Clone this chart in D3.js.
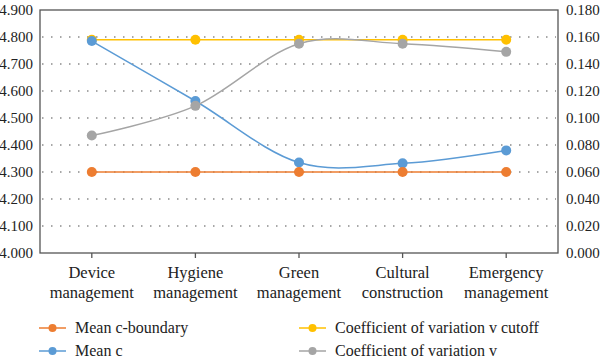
<!DOCTYPE html>
<meta charset="utf-8">
<style>
body { margin: 0; background: #fff; }
svg, svg text, svg tspan { font-family: "Liberation Serif", serif !important; }
.grid line { stroke: #8a8a8a; stroke-width: 1.3px; stroke-dasharray: 1.5,7.5; }
.frame { fill: none; stroke: #555; stroke-width: 1.3px; }
.line { fill: none; stroke-width: 1.5px; }
</style>
<body>
<script src="https://d3js.org/d3.v7.min.js"></script>
<script>

// categories and series values
var categories = [["Device", "management"], ["Hygiene", "management"], ["Green", "management"],
                  ["Cultural", "construction"], ["Emergency", "management"]];
var meanBoundary = [4.300, 4.300, 4.300, 4.300, 4.300];
var meanC = [4.785, 4.563, 4.335, 4.332, 4.380];
var cvCutoff = [0.158, 0.158, 0.158, 0.158, 0.158];
var cv = [0.087, 0.109, 0.155, 0.155, 0.149];
var leftTicks = [4.0, 4.1, 4.2, 4.3, 4.4, 4.5, 4.6, 4.7, 4.8, 4.9];
var rightTicks = [0, 0.02, 0.04, 0.06, 0.08, 0.10, 0.12, 0.14, 0.16, 0.18];

var serifFont = "'Liberation Serif'";

var width = 600, height = 362;
var margin = {top: 10, right: 42, bottom: 109, left: 40},
    w = width - margin.left - margin.right,
    h = height - margin.top - margin.bottom;

var svg = d3.select("body").append("svg")
    .attr("width", width)
    .attr("height", height)
    .attr("font-family", "Liberation Serif");

var g = svg.append("g")
    .attr("transform", "translate(" + margin.left + "," + margin.top + ")");

var idx = d3.range(categories.length);
var x = d3.scaleBand().domain(idx).range([0, w]);
var cx = function(i) { return x(i) + x.bandwidth() / 2; };
var yL = d3.scaleLinear().domain([4.0, 4.9]).range([h, 0]);
var yR = d3.scaleLinear().domain([0, 0.18]).range([h, 0]);

// dotted gridlines
g.append("g").attr("class", "grid")
  .selectAll("line")
  .data(leftTicks.slice(1, -1))
  .enter().append("line")
    .attr("x1", 2).attr("x2", w - 2)
    .attr("y1", function(d) { return yL(d); })
    .attr("y2", function(d) { return yL(d); });

// left axis labels
g.append("g")
    .call(d3.axisLeft(yL).tickValues(leftTicks).tickFormat(d3.format(".3f")).tickSize(0).tickPadding(7))
    .attr("font-family", "Liberation Serif").attr("font-size", null)
    .call(function(a) { a.select(".domain").remove(); })
    .selectAll("text")
      .style("font-family", serifFont).style("font-size", "15px").attr("fill", "#222");

// right axis labels
g.append("g")
    .attr("transform", "translate(" + w + ",0)")
    .call(d3.axisRight(yR).tickValues(rightTicks).tickFormat(d3.format(".3f")).tickSize(0).tickPadding(8))
    .attr("font-family", "Liberation Serif").attr("font-size", null)
    .call(function(a) { a.select(".domain").remove(); })
    .selectAll("text")
      .style("font-family", serifFont).style("font-size", "15px").attr("fill", "#222");

// x axis ticks
var xa = g.append("g")
    .attr("transform", "translate(0," + h + ")")
    .call(d3.axisBottom(x).tickSize(5).tickFormat(""));
xa.select(".domain").remove();
xa.selectAll("line").attr("stroke", "#555").attr("stroke-width", 1.3);

// category labels
var lab = g.append("g").selectAll("text")
  .data(idx)
  .enter().append("text")
    .attr("x", cx)
    .attr("y", h + 25)
    .attr("text-anchor", "middle")
    .attr("fill", "#222")
    .style("font-family", serifFont)
    .style("font-size", "16.5px");
lab.append("tspan").attr("x", cx).text(function(i) { return categories[i][0]; });
lab.append("tspan").attr("x", cx).attr("dy", 20).text(function(i) { return categories[i][1]; });

// frame
g.append("rect").attr("class", "frame")
    .attr("x", 0).attr("y", 0).attr("width", w).attr("height", h);

var series = [
  {name: "Coefficient of variation v cutoff", values: cvCutoff, scale: yR, color: "#FFC000", smooth: false},
  {name: "Mean c", values: meanC, scale: yL, color: "#5B9BD5", smooth: true},
  {name: "Mean c-boundary", values: meanBoundary, scale: yL, color: "#ED7D31", smooth: false},
  {name: "Coefficient of variation v", values: cv, scale: yR, color: "#A5A5A5", smooth: true}
];

series.forEach(function(s) {
  var line = d3.line()
      .x(function(d, i) { return cx(i); })
      .y(function(d) { return s.scale(d); })
      .curve(s.smooth ? d3.curveCardinal.tension(0) : d3.curveLinear);
  g.append("path")
      .datum(s.values)
      .attr("class", "line")
      .attr("stroke", s.color)
      .attr("d", line);
  g.selectAll(null)
    .data(s.values)
    .enter().append("circle")
      .attr("cx", function(d, i) { return cx(i); })
      .attr("cy", function(d) { return s.scale(d); })
      .attr("r", 5)
      .attr("fill", s.color);
});

// legend
var legendItems = [
  {name: "Mean c-boundary", color: "#ED7D31", col: 0, row: 0},
  {name: "Coefficient of variation v cutoff", color: "#FFC000", col: 1, row: 0},
  {name: "Mean c", color: "#5B9BD5", col: 0, row: 1},
  {name: "Coefficient of variation v", color: "#A5A5A5", col: 1, row: 1}
];
var lg = svg.append("g").selectAll("g")
  .data(legendItems)
  .enter().append("g")
    .attr("transform", function(d) {
      return "translate(" + (39 + d.col * 260) + "," + (328 + d.row * 23) + ")";
    });
lg.append("line")
    .attr("x1", 0).attr("x2", 27)
    .attr("stroke", function(d) { return d.color; })
    .attr("stroke-width", 1.5);
lg.append("circle")
    .attr("cx", 13.5).attr("r", 4)
    .attr("fill", function(d) { return d.color; });
lg.append("text")
    .attr("x", 36)
    .attr("dy", "0.33em")
    .attr("fill", "#222")
    .style("font-family", serifFont)
    .style("font-size", "16px")
    .text(function(d) { return d.name; });

</script>
</body>
